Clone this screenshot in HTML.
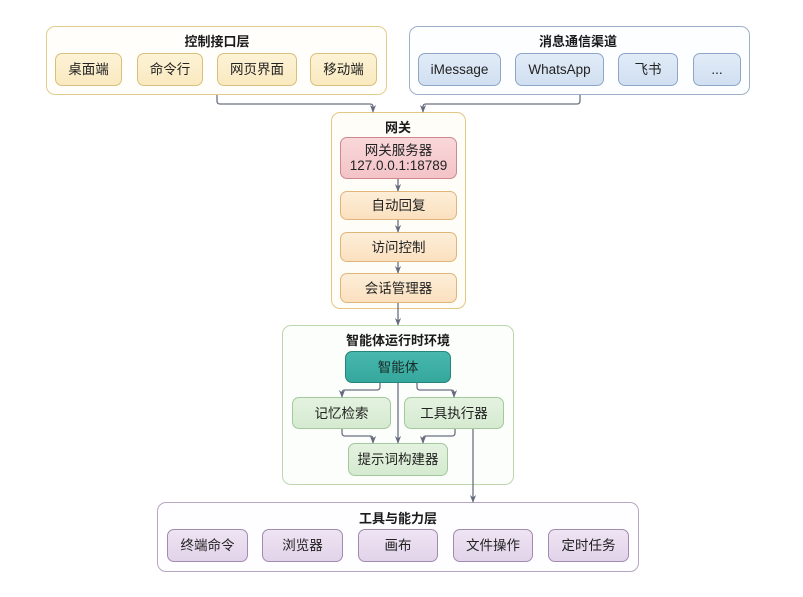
<!DOCTYPE html>
<html><head><meta charset="utf-8">
<style>
*{margin:0;padding:0;box-sizing:border-box}
body{width:803px;height:597px;background:#fff;position:relative;overflow:hidden;font-family:"Liberation Sans","Noto Sans CJK SC",sans-serif;color:#222}
.c{position:absolute;border-radius:9px;border:1.3px solid}
.b{position:absolute;border-radius:7px;border:1.2px solid;display:flex;align-items:center;justify-content:center;font-size:13.5px;color:#222;text-align:center;line-height:15px}
.t{position:absolute;font-size:13px;font-weight:bold;text-align:center;transform:translateX(-50%);white-space:nowrap;color:#1a1a1a}
.y{background:linear-gradient(#fdf3d6,#f9e9bf);border-color:#d8c07c}
.bl{background:linear-gradient(#e2ecf8,#d0dff1);border-color:#8ea6c6}
.o{background:linear-gradient(#fdeed8,#fbe0bf);border-color:#e0b57a}
.r{background:linear-gradient(#f9d8da,#f3c3c7);border-color:#cf878e}
.g{background:linear-gradient(#e4f2e0,#d5ead0);border-color:#a2c89b}
.p{background:linear-gradient(#eee4f2,#e2d3ea);border-color:#a18bb0}
.tl{background:linear-gradient(#48b8ad,#35a79c);border-color:#25847b;color:#1a2a28}
svg{position:absolute;left:0;top:0}
</style></head><body>

<div class="c" style="left:46px;top:26px;width:341px;height:69px;border-color:#e2cd8c;background:#fffefa"></div>
<div class="t" style="left:217px;top:31px">控制接口层</div>
<div class="b y" style="left:55px;top:53px;width:67px;height:33px">桌面端</div>
<div class="b y" style="left:137px;top:53px;width:66px;height:33px">命令行</div>
<div class="b y" style="left:217px;top:53px;width:80px;height:33px">网页界面</div>
<div class="b y" style="left:310px;top:53px;width:67px;height:33px">移动端</div>

<div class="c" style="left:409px;top:26px;width:341px;height:69px;border-color:#9eb0c9;background:#fdfeff"></div>
<div class="t" style="left:578px;top:31px">消息通信渠道</div>
<div class="b bl" style="left:418px;top:53px;width:83px;height:33px">iMessage</div>
<div class="b bl" style="left:515px;top:53px;width:89px;height:33px">WhatsApp</div>
<div class="b bl" style="left:618px;top:53px;width:60px;height:33px">飞书</div>
<div class="b bl" style="left:693px;top:53px;width:48px;height:33px">...</div>

<div class="c" style="left:331px;top:112px;width:135px;height:197px;border-color:#e4c685;background:#fffdf8"></div>
<div class="t" style="left:398px;top:117px">网关</div>
<div class="b r" style="left:340px;top:137px;width:117px;height:42px;flex-direction:column;line-height:15px">网关服务器<br>127.0.0.1:18789</div>
<div class="b o" style="left:340px;top:191px;width:117px;height:29px">自动回复</div>
<div class="b o" style="left:340px;top:232px;width:117px;height:30px">访问控制</div>
<div class="b o" style="left:340px;top:273px;width:117px;height:30px">会话管理器</div>

<div class="c" style="left:282px;top:325px;width:232px;height:160px;border-color:#bcd6ae;background:#fcfefb"></div>
<div class="t" style="left:398px;top:330px">智能体运行时环境</div>
<div class="b tl" style="left:345px;top:351px;width:106px;height:32px">智能体</div>
<div class="b g" style="left:292px;top:397px;width:99px;height:32px">记忆检索</div>
<div class="b g" style="left:404px;top:397px;width:100px;height:32px">工具执行器</div>
<div class="b g" style="left:348px;top:443px;width:100px;height:33px">提示词构建器</div>

<div class="c" style="left:157px;top:502px;width:482px;height:70px;border-color:#b6a6c3;background:#fefdff"></div>
<div class="t" style="left:398px;top:508px">工具与能力层</div>
<div class="b p" style="left:167px;top:529px;width:81px;height:33px">终端命令</div>
<div class="b p" style="left:262px;top:529px;width:81px;height:33px">浏览器</div>
<div class="b p" style="left:358px;top:529px;width:80px;height:33px">画布</div>
<div class="b p" style="left:453px;top:529px;width:80px;height:33px">文件操作</div>
<div class="b p" style="left:548px;top:529px;width:81px;height:33px">定时任务</div>

<svg width="803" height="597" viewBox="0 0 803 597">
<defs><marker id="a" viewBox="0 0 10 10" refX="9" refY="5" markerWidth="6" markerHeight="6" orient="auto"><path d="M0,1 L10,5 L0,9 L3,5 z" fill="#646a7c"/></marker></defs>
<g fill="none" stroke="#6a7082" stroke-width="1.3" marker-end="url(#a)">
<path d="M217,95 V101 Q217,104 220,104 H370 Q373,104 373,107 V112"/>
<path d="M580,95 V101 Q580,104 577,104 H426 Q423,104 423,107 V112"/>
<path d="M398,179 V191"/>
<path d="M398,220 V232"/>
<path d="M398,262 V273"/>
<path d="M398,303 V325"/>
<path d="M380,383 V387 Q380,390 377,390 H345 Q342,390 342,393 V397"/>
<path d="M417,383 V387 Q417,390 420,390 H451 Q454,390 454,393 V397"/>
<path d="M398,383 V443"/>
<path d="M342,429 V433 Q342,436 345,436 H370 Q373,436 373,439 V443"/>
<path d="M455,429 V433 Q455,436 452,436 H426 Q423,436 423,439 V443"/>
<path d="M473,429 V502"/>
</g>
</svg>
</body></html>
